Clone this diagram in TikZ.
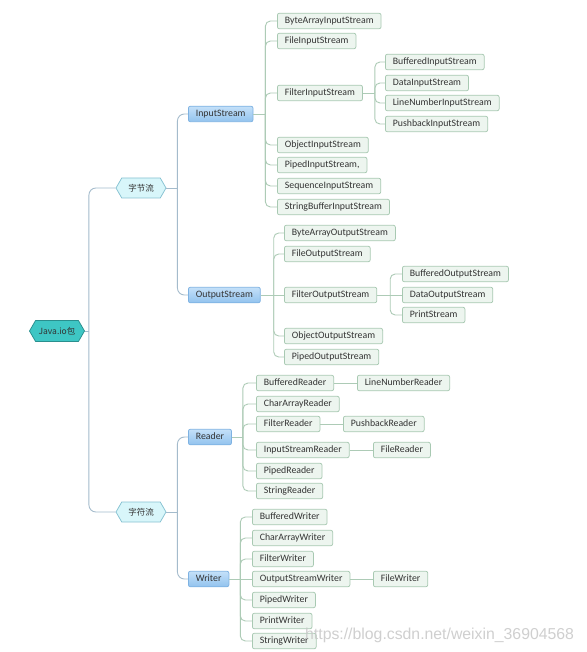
\documentclass[tikz,border=0pt]{standalone}
\usepackage{fontspec}
\setmainfont{Carlito}
\newfontfamily\cjk{Noto Sans CJK SC}
\newfontfamily\wmfont{Liberation Sans}
\usetikzlibrary{shapes.symbols}
\definecolor{leaffill}{HTML}{EDF5EF}
\definecolor{leafdraw}{HTML}{A8C9B2}
\definecolor{leafline}{HTML}{ADCBB6}
\definecolor{trunkline}{HTML}{A4BBCC}
\definecolor{bluetop}{HTML}{C4E0F9}
\definecolor{bluebot}{HTML}{92C3EE}
\definecolor{bluedraw}{HTML}{7EB2E2}
\definecolor{rootfill}{HTML}{3EC6C4}
\definecolor{rootdraw}{HTML}{2A8F8E}
\definecolor{lonefill}{HTML}{D8F6FA}
\definecolor{lonedraw}{HTML}{86C2D2}
\definecolor{textc}{HTML}{333333}
\begin{document}
\begin{tikzpicture}[x=1pt,y=-1pt,
  leaf/.style={draw=leafdraw, fill=leaffill, rounded corners=2pt, line width=0.75pt,
    font=\fontsize{9.8}{11}\selectfont, text=textc, inner xsep=7.5pt, inner ysep=0pt,
    minimum height=15.5pt, text height=7pt, text depth=2pt, anchor=west},
  bluebox/.style={draw=bluedraw, top color=bluetop, bottom color=bluebot, rounded corners=2pt,
    line width=0.75pt, font=\fontsize{9.8}{11}\selectfont, text=textc, inner xsep=7.5pt,
    inner ysep=0pt, minimum height=15.5pt, text height=7pt, text depth=2pt, anchor=west},
  hexroot/.style={signal, signal to=east and west, signal pointer angle=120,
    draw=rootdraw, fill=rootfill, line width=0.75pt, minimum width=55pt, minimum height=21pt,
    inner sep=1pt, font=\cjk\fontsize{8.5}{10}\selectfont, text=black!80},
  hexone/.style={signal, signal to=east and west, signal pointer angle=120,
    draw=lonedraw, fill=lonefill, line width=0.75pt, minimum width=50pt, minimum height=20pt,
    inner sep=1pt, font=\cjk\fontsize{8.5}{10}\selectfont, text=textc},
  trunk/.style={draw=trunkline, line width=0.9pt, rounded corners=7pt},
  conn/.style={draw=leafline, line width=0.9pt, rounded corners=5pt}
]
\fill[white] (0,0) rectangle (586,652);
\useasboundingbox (0,0) rectangle (586,652);

% hexagons
\node[hexroot] (root) at (57,331) {Java.io包};
\node[hexone] (bs) at (141,188) {字节流};
\node[hexone] (cs) at (141,512) {字符流};

% blue boxes
\node[bluebox] (is) at (188,114) {InputStream};
\node[bluebox] (os) at (188,295) {OutputStream};
\node[bluebox] (rd) at (188,437) {Reader};
\node[bluebox] (wr) at (188,579) {Writer};

% InputStream children
\node[leaf] (bais)  at (277,21)  {ByteArrayInputStream};
\node[leaf] (fis)   at (277,41)  {FileInputStream};
\node[leaf] (filis) at (277,93)  {FilterInputStream};
\node[leaf] (ois)   at (277,145) {ObjectInputStream};
\node[leaf] (pis)   at (277,165) {PipedInputStream,};
\node[leaf] (sis)   at (277,186) {SequenceInputStream};
\node[leaf] (sbis)  at (277,207) {StringBufferInputStream};
\node[leaf] (bis)   at (385,62)  {BufferedInputStream};
\node[leaf] (dis)   at (385,83)  {DataInputStream};
\node[leaf] (lnis)  at (385,103) {LineNumberInputStream};
\node[leaf] (pbis)  at (385,124) {PushbackInputStream};

% OutputStream children
\node[leaf] (baos)  at (284,233) {ByteArrayOutputStream};
\node[leaf] (fos)   at (284,254) {FileOutputStream};
\node[leaf] (filos) at (284,295) {FilterOutputStream};
\node[leaf] (oos)   at (284,336) {ObjectOutputStream};
\node[leaf] (pos)   at (284,357) {PipedOutputStream};
\node[leaf] (bos)   at (402,274) {BufferedOutputStream};
\node[leaf] (dos)   at (402,295) {DataOutputStream};
\node[leaf] (ps)    at (402,315) {PrintStream};

% Reader children
\node[leaf] (br)   at (256,383) {BufferedReader};
\node[leaf] (car)  at (256,404) {CharArrayReader};
\node[leaf] (fr)   at (256,424) {FilterReader};
\node[leaf] (isr)  at (256,450) {InputStreamReader};
\node[leaf] (pr)   at (256,471) {PipedReader};
\node[leaf] (sr)   at (256,491) {StringReader};
\node[leaf] (lnr)  at (357,383) {LineNumberReader};
\node[leaf] (pbr)  at (343,424) {PushbackReader};
\node[leaf] (filr) at (373,450) {FileReader};

% Writer children
\node[leaf] (bw)   at (252,517) {BufferedWriter};
\node[leaf] (caw)  at (252,538) {CharArrayWriter};
\node[leaf] (fw)   at (252,559) {FilterWriter};
\node[leaf] (osw)  at (252,579) {OutputStreamWriter};
\node[leaf] (pw)   at (252,600) {PipedWriter};
\node[leaf] (prw)  at (252,621) {PrintWriter};
\node[leaf] (sw)   at (252,641) {StringWriter};
\node[leaf] (filw) at (373,579) {FileWriter};

% trunk connectors
\draw[trunk] (root.east) -- ++(4,0) coordinate (rootb);
\draw[trunk] (rootb) |- (bs.west);
\draw[trunk] (rootb) |- (cs.west);
\draw[trunk] (bs.east) -- ++(11,0) coordinate (bsb);
\draw[trunk] (bsb) |- (is.west);
\draw[trunk] (bsb) |- (os.west);
\draw[trunk] (cs.east) -- ++(11,0) coordinate (csb);
\draw[trunk] (csb) |- (rd.west);
\draw[trunk] (csb) |- (wr.west);

% InputStream
\draw[conn] (is.east) -- ++(12,0) coordinate (isb);
\foreach \c in {bais,fis,filis,ois,pis,sis,sbis} \draw[conn] (isb) |- (\c.west);
\draw[conn] (filis.east) -- ++(12,0) coordinate (filisb);
\foreach \c in {bis,dis,lnis,pbis} \draw[conn] (filisb) |- (\c.west);

% OutputStream
\draw[conn] (os.east) -- ++(13,0) coordinate (osb);
\foreach \c in {baos,fos,oos,pos} \draw[conn] (osb) |- (\c.west);
\draw[conn] (osb) -- (filos.west);
\draw[conn] (filos.east) -- ++(13,0) coordinate (filosb);
\foreach \c in {bos,ps} \draw[conn] (filosb) |- (\c.west);
\draw[conn] (filosb) -- (dos.west);

% Reader
\draw[conn] (rd.east) -- ++(11,0) coordinate (rdb);
\foreach \c in {br,car,fr,isr,pr,sr} \draw[conn] (rdb) |- (\c.west);
\draw[conn] (br.east) -- (lnr.west);
\draw[conn] (fr.east) -- (pbr.west);
\draw[conn] (isr.east) -- (filr.west);

% Writer
\draw[conn] (wr.east) -- ++(11,0) coordinate (wrb);
\foreach \c in {bw,caw,fw,pw,prw,sw} \draw[conn] (wrb) |- (\c.west);
\draw[conn] (wrb) -- (osw.west);
\draw[conn] (osw.east) -- (filw.west);

% watermark
\node[anchor=base west, inner sep=0pt, font=\wmfont\fontsize{15.8}{17}\selectfont,
  text=black!22, opacity=0.85] (wm) at (305,639) {https://blog.csdn.net/weixin\_36904568};
\end{tikzpicture}
\end{document}
